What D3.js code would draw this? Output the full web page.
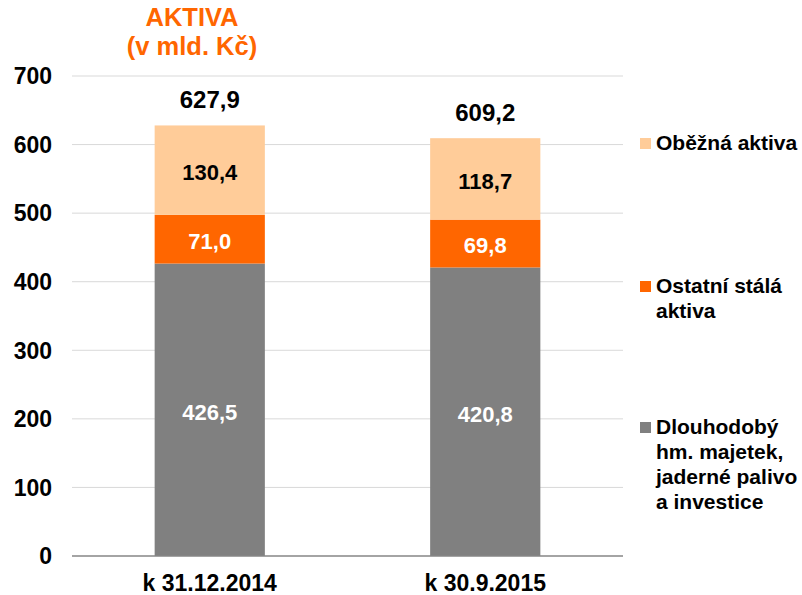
<!DOCTYPE html>
<html>
<head>
<meta charset="utf-8">
<script src="https://cdn.jsdelivr.net/npm/d3@7"></script>
<style>
  body { margin: 0; background: #fff; }
  text { font-family: Arial, "Liberation Sans", sans-serif; font-weight: bold; }
</style>
</head>
<body>
<svg width="802" height="595"></svg>
<script>
// data
var categories = ["k 31.12.2014", "k 30.9.2015"];
var dlouhodoby = [426.5, 420.8];
var ostatni = [71.0, 69.8];
var obezna = [130.4, 118.7];
var totals = [627.9, 609.2];
var yTicks = [0, 100, 200, 300, 400, 500, 600, 700];
var seriesKeys = ["dlouhodoby", "ostatni", "obezna"];
var seriesColors = ["#808080", "#ff6600", "#ffcc99"];
var labelColors = ["#fff", "#fff", "#000"];
var legendLines = [
    ["Oběžná aktiva"],
    ["Ostatní stálá", "aktiva"],
    ["Dlouhodobý", "hm. majetek,", "jaderné palivo", "a investice"]
];
var legendColors = ["#ffcc99", "#ff6600", "#808080"];

var svg = d3.select("svg");

var rows = categories.map(function (c, i) {
    return {cat: c, dlouhodoby: dlouhodoby[i], ostatni: ostatni[i], obezna: obezna[i]};
});

var x = d3.scaleBand().domain(categories).range([72, 623]).padding(0);
var y = d3.scaleLinear().domain([0, 700]).range([556, 76]);
var barW = x.bandwidth() * 0.4;

var fmt = function (v) { return d3.format(".1f")(v).replace(".", ","); };

// gridlines
svg.append("g")
    .selectAll("line")
    .data(yTicks.filter(function (d) { return d > 0; }))
    .enter()
    .append("line")
    .attr("x1", 72).attr("x2", 623)
    .attr("y1", function (d) { return y(d); })
    .attr("y2", function (d) { return y(d); })
    .style("stroke", "#d9d9d9")
    .style("stroke-width", 1);

// y tick labels
svg.append("g")
    .selectAll("text")
    .data(yTicks)
    .enter()
    .append("text")
    .attr("x", 52)
    .attr("y", function (d) { return y(d); })
    .attr("dy", "0.36em")
    .attr("text-anchor", "end")
    .attr("font-size", "23px")
    .text(function (d) { return d; });

// stacked bars
var stacked = d3.stack().keys(seriesKeys)(rows);

var layer = svg.append("g")
    .selectAll("g")
    .data(stacked)
    .enter()
    .append("g")
    .attr("fill", function (d, i) { return seriesColors[i]; });

layer.selectAll("rect")
    .data(function (d) { return d; })
    .enter()
    .append("rect")
    .attr("x", function (d) { return x(d.data.cat) + (x.bandwidth() - barW) / 2; })
    .attr("width", barW)
    .attr("y", function (d) { return y(d[1]); })
    .attr("height", function (d) { return y(d[0]) - y(d[1]); });

// segment labels
stacked.forEach(function (s, si) {
    svg.append("g")
        .selectAll("text")
        .data(s)
        .enter()
        .append("text")
        .attr("x", function (d) { return x(d.data.cat) + x.bandwidth() / 2; })
        .attr("y", function (d) { return (y(d[0]) + y(d[1])) / 2 + 2; })
        .attr("dy", "0.36em")
        .attr("text-anchor", "middle")
        .attr("font-size", "22px")
        .attr("fill", labelColors[si])
        .text(function (d) { return fmt(d.data[s.key]); });
});

// totals
svg.append("g")
    .selectAll("text")
    .data(totals)
    .enter()
    .append("text")
    .attr("x", function (d, i) { return x(categories[i]) + x.bandwidth() / 2; })
    .attr("y", function (d) { return y(d) - 17; })
    .attr("text-anchor", "middle")
    .attr("font-size", "24px")
    .text(function (d) { return fmt(d); });

// baseline
svg.append("line")
    .attr("x1", 72).attr("x2", 623)
    .attr("y1", y(0)).attr("y2", y(0))
    .style("stroke", "#868686")
    .style("stroke-width", 1.5);

// category labels
svg.append("g")
    .selectAll("text")
    .data(categories)
    .enter()
    .append("text")
    .attr("x", function (d) { return x(d) + x.bandwidth() / 2; })
    .attr("y", 591)
    .attr("text-anchor", "middle")
    .attr("font-size", "23px")
    .text(function (d) { return d; });

// title, two separate lines
svg.append("text")
    .attr("x", 192)
    .attr("y", 26)
    .attr("text-anchor", "middle")
    .attr("font-size", "25.5px")
    .attr("fill", "#ff6600")
    .text("AKTIVA");
svg.append("text")
    .attr("x", 192)
    .attr("y", 55)
    .attr("text-anchor", "middle")
    .attr("font-size", "25.5px")
    .attr("fill", "#ff6600")
    .text("(v mld. Kč)");

// legend
var legendTops = [138, 281, 422];
legendLines.forEach(function (lines, i) {
    var g = svg.append("g").attr("transform", "translate(640," + legendTops[i] + ")");
    g.append("rect")
        .attr("width", 11).attr("height", 11)
        .attr("fill", legendColors[i]);
    var t = g.append("text")
        .attr("x", 16)
        .attr("y", 12)
        .attr("font-size", "21px");
    lines.forEach(function (l, j) {
        t.append("tspan").attr("x", 16).attr("dy", j === 0 ? 0 : 25).text(l);
    });
});
</script>
</body>
</html>
